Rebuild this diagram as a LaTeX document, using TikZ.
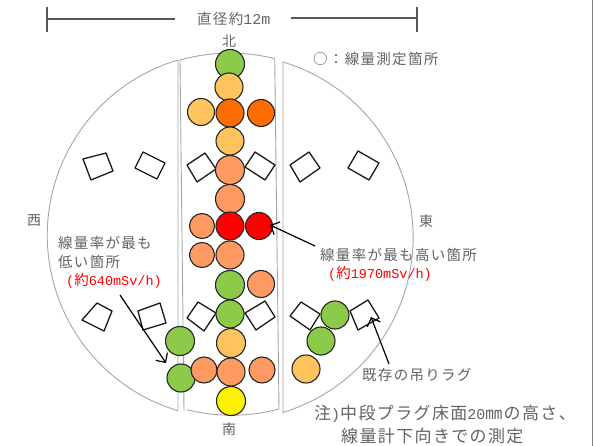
\documentclass[tikz,border=0pt]{standalone}
\usepackage{fontspec}
\setmainfont{Noto Sans CJK JP}
\newfontfamily\hwfont{Liberation Mono}
\usetikzlibrary{arrows.meta}
\definecolor{gtxt}{HTML}{636363}
\definecolor{cgreen}{HTML}{8CCB4A}
\definecolor{clo}{HTML}{FFC45E}
\definecolor{corg}{HTML}{FF6D00}
\definecolor{csal}{HTML}{FF9A62}
\tikzset{
  lab/.style={anchor=west,inner sep=0pt,text=gtxt,font=\fontsize{14.5bp}{16bp}\selectfont\addfontfeature{LetterSpace=9}},
  redlab/.style={lab,text=red},
  big/.style={lab,font=\fontsize{17bp}{19bp}\selectfont\addfontfeature{LetterSpace=8}},
  dir/.style={anchor=center,inner sep=0pt,text=gtxt,font=\fontsize{14bp}{16bp}\selectfont},
  spot/.style={circle,draw=black!85,line width=1.1bp,inner sep=0pt,minimum size=#1*2bp,fill=cgreen},
  lug/.style={draw=black!90,line width=1.3bp,line join=round},
  plug/.style={draw=black!35,line width=0.9bp},
  dim/.style={draw=black!65,line width=1.2bp},
  ptr/.style={draw=black,line width=1.2bp,-{Straight Barb[length=7bp,width=14bp,line width=1.2bp]}}
}
\newcommand{\hw}[2]{{\hwfont\fontsize{#1bp}{#1bp}\selectfont #2}}
\newcommand{\spotat}[5]{\node[spot=#4,fill=#5] (#1) at (#2,#3) {};}
\begin{document}
\begin{tikzpicture}[x=1bp,y=-1bp]
\useasboundingbox (0,0) rectangle (593,446);
\fill[white] (0,0) rectangle (593,446);
\draw[black!50,line width=1bp] (592.5,0) -- (592.5,446);
% plug segments
\draw[plug] (178,411) -- (178,60) arc[start angle=106.6,end angle=253.4,radius=183bp];
\draw[plug] (184,411) -- (180,60) arc[start angle=105.8,end angle=75.8,radius=183bp] -- (279,409) arc[start angle=285,end angle=255.9,radius=183bp];
\draw[plug] (283,414) -- (283,62) arc[start angle=73.2,end angle=-73.2,radius=183bp];
% dimension line
\coordinate (dl) at (47,19); \coordinate (dm1) at (175,19);
\coordinate (dm2) at (291,18); \coordinate (dr) at (417,18);
\draw[dim] (47,7) -- (47,32); \draw[dim] (dl) -- (dm1);
\draw[dim] (dm2) -- (dr); \draw[dim] (417,7) -- (417,32);
% lugs
\draw[lug] (83,159) -- (106,153) -- (113,171) -- (91,180) -- cycle;
\draw[lug] (143,152) -- (165,163) -- (157,179) -- (135,168) -- cycle;
\draw[lug] (205,153) -- (216,169) -- (197,182) -- (187,165) -- cycle;
\draw[lug] (255,152) -- (275,165) -- (265,180) -- (245,167) -- cycle;
\draw[lug] (309,152) -- (320,168) -- (300,182) -- (290,165) -- cycle;
\draw[lug] (358,151) -- (379,163) -- (369,180) -- (348,168) -- cycle;
\draw[lug] (97,303) -- (112,311) -- (104,331) -- (82,320) -- cycle;
\draw[lug] (138,311) -- (160,303) -- (166,323) -- (143,330) -- cycle;
\draw[lug] (198,302) -- (216,313) -- (204,331) -- (187,318) -- cycle;
\draw[lug] (265,301) -- (275,317) -- (256,330) -- (245,313) -- cycle;
\draw[lug] (301,302) -- (320,314) -- (310,330) -- (290,316) -- cycle;
\draw[lug] (368,300) -- (379,318) -- (358,330) -- (350,311) -- cycle;
% spots
\spotat{a1}{230}{64}{14.5}{cgreen}
\spotat{a2}{229}{87}{14}{clo}
\spotat{b1}{201}{112}{13.5}{clo}
\spotat{b3}{261}{113}{13.5}{corg}
\spotat{b2}{230}{113}{14}{corg}
\spotat{a3}{230}{141}{14}{clo}
\spotat{a4}{230}{170}{14.5}{csal}
\spotat{a5}{230}{199}{14.5}{csal}
\spotat{c1}{202}{226}{12.5}{csal}
\spotat{c2}{230}{226}{14}{red}
\spotat{c3}{259}{226}{13.5}{red}
\spotat{d1}{202}{255}{12.5}{csal}
\spotat{d2}{230}{255}{14}{csal}
\spotat{e1}{230}{285}{14.5}{cgreen}
\spotat{e2}{261}{284}{13.5}{csal}
\spotat{f1}{230}{314}{14}{cgreen}
\spotat{g1}{231}{343}{14.5}{clo}
\spotat{l1}{180}{341}{14.5}{cgreen}
\spotat{l2}{181}{378}{14}{cgreen}
\spotat{h1}{204}{370}{13}{csal}
\spotat{h3}{262}{370}{13}{csal}
\spotat{h2}{231}{372}{14}{csal}
\spotat{y1}{231}{401}{14.5}{yellow}
\spotat{r1}{335}{315}{14}{cgreen}
\spotat{r2}{321}{341}{14}{cgreen}
\spotat{r3}{306}{369}{14}{clo}
% labels
\node[lab] (tdia) at (197,19) {直径約\hw{15}{12m}};
\node[dir] (tn) at (229,41) {北};
\node[dir] (ts) at (229,429) {南};
\node[dir] (tw) at (34,221) {西};
\node[dir] (te) at (426,221) {東};
\node[lab] (tleg) at (313,59) {○：線量測定箇所};
\node[lab] (thi) at (320,255) {線量率が最も高い箇所};
\node[redlab] (thiv) at (328,274) {\hw{13.5}{(}約\hw{13.5}{1970mSv/h)}};
\node[lab] (tlo1) at (58,243) {線量率が最も};
\node[lab] (tlo2) at (58,262) {低い箇所};
\node[redlab] (tlov) at (66,281) {\hw{13.5}{(}約\hw{13.5}{640mSv/h)}};
\node[lab] (tlug) at (362,375) {既存の吊りラグ};
\node[big] (tn1) at (314,414) {注\hw{15}{)}中段プラグ床面\hw{15}{20}㎜の高さ、};
\node[big] (tn2) at (341,436.5) {線量計下向きでの測定};
% pointers
\coordinate (p1s) at (315,246); \coordinate (p1e) at (270,225);
\coordinate (p2s) at (120,295); \coordinate (p2e) at (166,363);
\coordinate (p3s) at (389,364); \coordinate (p3e) at (371,317);
\draw[ptr] (p1s) -- (p1e);
\draw[ptr] (p2s) -- (p2e);
\draw[ptr] (p3s) -- (p3e);
\end{tikzpicture}
\end{document}
